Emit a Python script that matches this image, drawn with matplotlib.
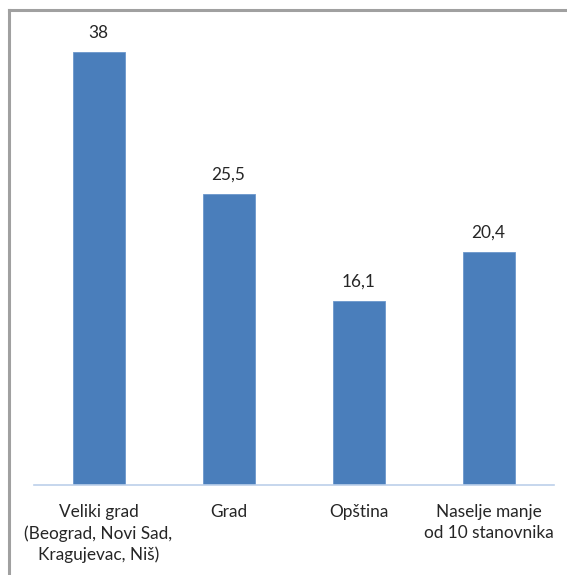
import matplotlib
matplotlib.use("Agg")
import matplotlib.pyplot as plt
from matplotlib.lines import Line2D

categories = ["Veliki grad\n(Beograd, Novi Sad,\nKragujevac, Niš)", "Grad", "Opština",
              "Naselje manje\nod 10 stanovnika"]
values = [38, 25.5, 16.1, 20.4]
value_labels = ["38", "25,5", "16,1", "20,4"]

plt.rcParams['font.family'] = ['Lato', 'DejaVu Sans']

W, H = 567, 575
fig = plt.figure(figsize=(W / 100, H / 100), dpi=100)

# grey frame (only top and left visible in the original)
fy = 1 - 9.5 / H
fx = 8.5 / W
fig.lines.append(Line2D([fx, 1.0], [fy, fy], transform=fig.transFigure, color='#a0a0a0', linewidth=2.2))
fig.lines.append(Line2D([fx, fx], [0, fy], transform=fig.transFigure, color='#a0a0a0', linewidth=2.2))

left, right = 33.5, 553.5
base, top = 484.5, 484.5 - 40 * 11.39
ax = fig.add_axes((left / W, 1 - base / H, (right - left) / W, (base - top) / H))

x = range(len(values))
bars = ax.bar(x, values, width=0.4, color='#4a7ebb', edgecolor='#6b97cc', linewidth=0.6)
ax.set_xlim(-0.5, 3.5)
ax.set_ylim(0, 40)

for xi, v, lab in zip(x, values, value_labels):
    ax.annotate(lab, (xi, v), xytext=(0, 8), textcoords='offset points', ha='center',
                va='bottom', fontsize=12.4, color='#262626')

ax.set_xticks(list(x))
ax.set_xticklabels(categories, fontsize=12.4, color='#262626', linespacing=1.38)
ax.tick_params(axis='x', length=0, pad=14)
ax.set_yticks([])
for s in ['top', 'right', 'left']:
    ax.spines[s].set_visible(False)
ax.spines['bottom'].set_color('#bcd0ea')
ax.spines['bottom'].set_linewidth(1.2)

fig.savefig('out.png', dpi=100)
